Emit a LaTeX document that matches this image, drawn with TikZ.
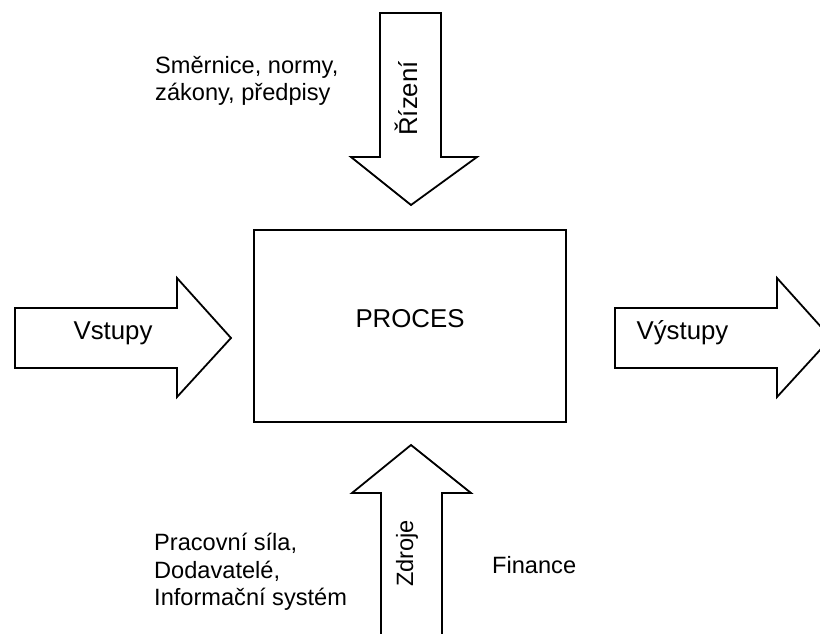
\documentclass[tikz,border=0pt]{standalone}
\usepackage{fontspec}
\setmainfont{Liberation Sans}
\begin{document}
\begin{tikzpicture}[x=1pt,y=-1pt,
  shapeline/.style={draw=black,line width=1.8pt,fill=white,line join=miter},
  big/.style={font=\fontsize{25.8}{29}\selectfont,inner sep=0pt},
  small/.style={font=\fontsize{23.6}{27.5}\selectfont,inner sep=0pt,align=left}]
\useasboundingbox (0,0) rectangle (820,634);
\clip (0,0) rectangle (820,634);
% process box
\draw[shapeline] (254,230) rectangle (566,422);
\node[big,anchor=base] (proc) at (410,327) {PROCES};
% top arrow (Rizeni)
\draw[shapeline] (380,13) -- (441,13) -- (441,157) -- (477,157) -- (411,205) -- (351,157) -- (380,157) -- cycle;
\node[big,rotate=90,anchor=base] (riz) at (417,98.5) {Řízení};
% left arrow (Vstupy)
\draw[shapeline] (15,308) -- (177,308) -- (177,278) -- (231,338) -- (177,397) -- (177,368) -- (15,368) -- cycle;
\node[big,anchor=base] (vst) at (113,339) {Vstupy};
% right arrow (Vystupy)
\draw[shapeline] (615,308) -- (777,308) -- (777,278) -- (831,338) -- (777,397) -- (777,368) -- (615,368) -- cycle;
\node[big,anchor=base] (vyst) at (682.5,339) {Výstupy};
% bottom arrow (Zdroje)
\draw[shapeline] (381,650) -- (381,493) -- (352,493) -- (411,445) -- (471,493) -- (442,493) -- (442,650);
\node[small,rotate=90,anchor=base] (zdr) at (413,553.5) {Zdroje};
% labels
\node[small,anchor=north west] (smer) at (155,56) {Směrnice, normy,\\zákony, předpisy};
\node[small,anchor=north west] (prac) at (154,533) {Pracovní síla,\\Dodavatelé,\\Informační systém};
\node[small,anchor=base west] (fin) at (492,573) {Finance};
\end{tikzpicture}
\end{document}
